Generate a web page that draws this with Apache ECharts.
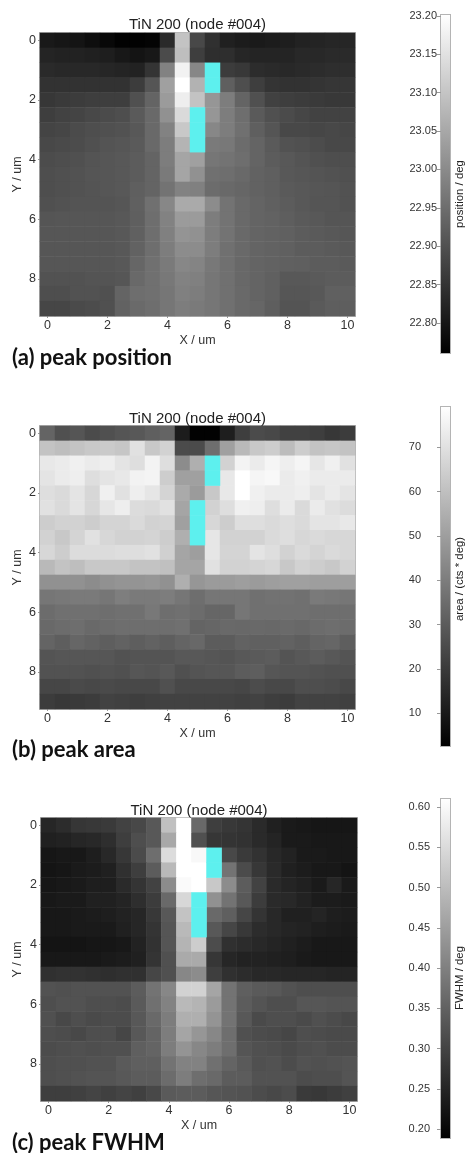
<!DOCTYPE html>
<html>
<head>
<meta charset="utf-8">
<style>html,body{margin:0;padding:0;background:#fff}#c{width:466px;height:1153px;filter:blur(0.45px)}</style>
<script src="https://cdn.jsdelivr.net/npm/echarts@6/dist/echarts.min.js"></script>
</head>
<body>
<div id="c"></div>
<script>
const xCategories = ['0','0.5','1','1.5','2','2.5','3','3.5','4','4.5','5','5.5','6','6.5','7','7.5','8','8.5','9','9.5','10'];
const yCategories = ['0','0.5','1','1.5','2','2.5','3','3.5','4','4.5','5','5.5','6','6.5','7','7.5','8','8.5','9'];

// peak position / deg, one row per Y step, null = unfitted (cyan) cell
const positionValues = [
[22.804,22.799,22.796,22.785,22.775,22.764,22.764,22.768,22.833,23.097,22.885,22.844,22.816,22.809,22.806,22.809,22.813,22.820,22.823,22.827,22.827],
[22.823,22.820,22.820,22.816,22.813,22.802,22.796,22.802,22.890,23.089,22.868,22.840,22.840,22.827,22.823,22.823,22.823,22.830,22.830,22.833,22.833],
[22.833,22.830,22.830,22.830,22.827,22.823,22.820,22.851,22.985,23.178,22.994,null,22.865,22.858,22.837,22.833,22.830,22.833,22.837,22.840,22.840],
[22.847,22.847,22.847,22.847,22.847,22.847,22.865,22.908,23.037,23.201,23.068,null,22.925,22.896,22.868,22.851,22.847,22.847,22.851,22.854,22.854],
[22.856,22.861,22.865,22.868,22.868,22.868,22.899,22.934,23.028,23.172,23.097,23.020,22.977,22.934,22.899,22.873,22.868,22.865,22.861,22.858,22.858],
[22.868,22.875,22.878,22.885,22.890,22.896,22.916,22.942,23.011,23.137,null,23.020,22.977,22.951,22.916,22.899,22.890,22.882,22.875,22.875,22.875],
[22.878,22.882,22.890,22.896,22.899,22.902,22.913,22.942,22.985,23.106,null,22.994,22.977,22.954,22.925,22.908,22.885,22.885,22.882,22.885,22.882],
[22.885,22.889,22.892,22.899,22.906,22.909,22.916,22.942,22.977,23.072,null,22.971,22.968,22.947,22.934,22.916,22.902,22.899,22.892,22.885,22.885],
[22.892,22.896,22.899,22.906,22.909,22.913,22.920,22.934,22.977,23.046,23.037,22.965,22.959,22.951,22.934,22.920,22.913,22.906,22.899,22.896,22.896],
[22.896,22.899,22.902,22.908,22.909,22.913,22.920,22.934,22.971,23.046,23.011,22.954,22.951,22.942,22.930,22.925,22.913,22.909,22.906,22.902,22.899],
[22.896,22.899,22.902,22.906,22.909,22.913,22.925,22.934,22.959,22.985,22.982,22.947,22.942,22.937,22.930,22.925,22.916,22.913,22.909,22.908,22.902],
[22.899,22.902,22.906,22.906,22.906,22.909,22.927,22.954,22.994,23.054,23.054,23.003,22.959,22.942,22.934,22.927,22.920,22.913,22.908,22.908,22.902],
[22.908,22.909,22.909,22.909,22.909,22.913,22.925,22.951,22.985,23.028,23.028,22.977,22.959,22.942,22.934,22.930,22.923,22.916,22.913,22.908,22.908],
[22.909,22.909,22.909,22.909,22.909,22.913,22.927,22.951,22.982,23.016,23.011,22.977,22.959,22.942,22.934,22.930,22.927,22.920,22.916,22.913,22.909],
[22.909,22.909,22.909,22.909,22.909,22.913,22.930,22.951,22.977,23.003,23.003,22.977,22.954,22.942,22.934,22.930,22.927,22.920,22.920,22.916,22.913],
[22.909,22.909,22.909,22.909,22.909,22.913,22.937,22.954,22.971,22.994,22.989,22.968,22.954,22.940,22.934,22.930,22.927,22.925,22.920,22.920,22.916],
[22.902,22.902,22.902,22.906,22.906,22.909,22.942,22.954,22.968,22.985,22.982,22.965,22.954,22.940,22.934,22.927,22.913,22.913,22.916,22.920,22.920],
[22.896,22.896,22.902,22.902,22.899,22.934,22.951,22.954,22.965,22.982,22.977,22.965,22.954,22.942,22.934,22.927,22.909,22.909,22.913,22.927,22.927],
[22.882,22.882,22.889,22.892,22.899,22.930,22.944,22.951,22.965,22.977,22.971,22.965,22.954,22.942,22.937,22.923,22.906,22.906,22.916,22.923,22.923]
];

// peak area / (cts * deg)
const areaValues = [
[32.6,26.6,28.1,25.1,26.6,28.1,29.0,31.1,32.6,11.0,3.2,3.2,11.6,21.2,25.1,24.2,22.1,22.1,21.2,19.1,20.6],
[61.1,59.6,61.1,62.6,63.2,62.0,70.1,62.6,65.6,25.1,25.1,35.6,50.6,58.1,62.6,64.1,59.0,64.1,61.1,62.0,61.1],
[72.2,73.1,74.6,73.1,74.0,71.0,69.2,75.5,69.2,44.6,55.1,null,65.6,75.5,73.1,76.1,74.0,76.1,71.6,74.6,70.1],
[71.0,73.1,74.0,69.2,71.0,72.2,75.2,75.8,64.1,50.6,50.6,null,72.2,79.1,76.1,77.0,73.1,74.6,73.1,73.1,73.1],
[69.2,68.0,71.0,67.1,74.6,70.1,74.0,71.6,66.2,53.6,49.1,62.6,72.2,79.1,74.6,73.1,73.1,74.0,71.0,73.1,71.0],
[70.1,68.0,71.0,67.1,71.6,74.0,68.6,68.0,70.1,52.1,null,65.6,69.2,74.6,74.0,69.2,73.1,68.0,73.1,70.1,68.6],
[64.1,65.6,65.6,64.1,66.2,66.2,68.0,65.6,66.2,50.6,null,67.1,64.1,69.2,69.2,68.0,69.2,68.0,71.0,71.0,72.2],
[65.6,62.6,66.2,70.1,67.1,65.6,65.6,66.2,64.1,55.1,null,71.6,65.6,65.6,65.6,68.0,69.2,67.1,68.0,67.1,67.1],
[67.1,64.1,68.6,68.6,68.6,69.2,69.2,70.1,65.0,52.1,50.0,71.6,66.2,66.2,71.0,69.2,65.6,68.0,66.2,68.0,67.1],
[58.1,61.1,59.6,62.6,62.6,62.6,61.1,61.1,60.2,52.1,52.1,70.1,65.6,65.6,66.2,67.1,62.6,65.6,64.1,62.6,65.6],
[46.1,46.1,46.1,44.6,46.1,47.0,47.0,47.6,46.1,55.1,47.6,49.1,49.1,50.0,49.1,50.0,50.6,50.6,50.0,50.0,50.0],
[38.0,38.6,39.2,39.2,38.0,40.4,39.2,39.2,40.1,38.0,35.6,38.0,38.0,38.0,36.2,36.8,36.8,36.2,39.2,38.6,38.0],
[35.0,36.2,36.2,36.2,35.6,36.2,36.2,38.6,35.6,36.2,35.0,33.2,33.2,38.0,36.2,36.2,36.2,36.2,35.6,35.6,35.6],
[34.1,35.0,35.6,34.1,35.0,35.6,35.6,35.6,35.6,36.2,32.6,33.2,34.1,33.8,34.1,33.8,34.4,33.8,35.0,35.6,35.0],
[32.6,30.8,33.2,32.0,30.8,32.0,30.8,32.0,30.8,32.6,33.8,30.2,30.2,32.0,31.4,31.4,32.0,30.8,32.6,33.2,30.8],
[27.8,28.4,28.4,28.4,28.4,27.2,27.8,27.8,27.8,29.0,29.0,28.4,27.8,29.0,29.6,30.2,27.8,29.0,30.2,29.0,27.8],
[27.2,27.2,27.2,26.6,27.2,26.6,28.4,27.8,29.0,26.6,27.8,28.4,28.4,30.2,30.8,28.4,27.8,27.8,27.2,26.6,26.6],
[23.6,23.6,24.8,24.2,24.8,24.2,24.2,24.2,26.6,24.2,24.2,24.2,24.2,23.6,25.4,24.2,24.2,26.0,26.0,25.4,24.2],
[20.6,19.4,20.0,20.6,22.4,21.8,21.2,21.8,22.4,22.4,22.4,22.4,22.4,21.8,22.4,21.2,20.6,22.4,22.4,22.4,21.8]
];

// peak FWHM / deg (values above the scale top are shown at the top)
const fwhmValues = [
[.252,.262,.278,.281,.285,.298,.308,.334,.506,.610,.362,.291,.281,.275,.258,.242,.232,.229,.225,.225,.225],
[.242,.245,.252,.255,.265,.291,.318,.334,.466,.610,.321,.278,.275,.272,.258,.248,.232,.232,.229,.229,.229],
[.225,.229,.229,.239,.255,.280,.313,.371,.552,.610,.598,null,.308,.285,.272,.255,.245,.232,.232,.229,.229],
[.222,.225,.232,.235,.242,.268,.291,.341,.494,.610,.610,null,.379,.313,.280,.258,.242,.235,.229,.229,.222],
[.225,.229,.232,.239,.239,.258,.275,.298,.420,.602,.610,.519,.420,.341,.298,.258,.248,.242,.232,.252,.232],
[.229,.232,.232,.242,.242,.248,.265,.288,.362,.544,null,.428,.379,.334,.288,.258,.255,.245,.235,.235,.232],
[.229,.229,.232,.235,.239,.245,.252,.281,.334,.511,null,.362,.346,.305,.275,.255,.242,.242,.248,.239,.235],
[.229,.229,.232,.232,.232,.242,.252,.275,.329,.494,null,.334,.305,.281,.262,.255,.248,.245,.239,.235,.232],
[.222,.222,.222,.225,.225,.229,.245,.272,.329,.486,.527,.314,.268,.262,.255,.248,.242,.235,.229,.229,.229],
[.229,.229,.229,.229,.232,.235,.242,.275,.321,.470,.470,.278,.252,.245,.245,.242,.239,.232,.229,.229,.229],
[.268,.272,.272,.268,.265,.268,.268,.305,.321,.412,.420,.291,.268,.262,.255,.255,.252,.252,.252,.248,.248],
[.324,.321,.324,.324,.324,.324,.341,.379,.412,.536,.536,.461,.379,.346,.338,.334,.324,.318,.318,.318,.318],
[.318,.324,.324,.318,.318,.314,.338,.374,.404,.494,.486,.445,.379,.341,.328,.318,.318,.331,.331,.328,.328],
[.321,.308,.318,.311,.314,.314,.334,.362,.395,.478,.478,.433,.379,.334,.311,.318,.318,.311,.321,.314,.308],
[.318,.314,.308,.318,.318,.305,.334,.354,.395,.461,.437,.412,.371,.321,.314,.311,.305,.318,.314,.311,.311],
[.314,.318,.321,.318,.321,.321,.346,.354,.395,.433,.412,.395,.371,.329,.321,.318,.311,.318,.321,.314,.314],
[.318,.321,.321,.324,.324,.338,.346,.346,.379,.404,.404,.374,.354,.338,.321,.324,.314,.324,.321,.324,.328],
[.318,.321,.324,.328,.328,.334,.341,.341,.367,.395,.371,.362,.341,.341,.324,.324,.324,.314,.318,.318,.328],
[.291,.291,.295,.301,.295,.301,.295,.308,.338,.341,.341,.331,.328,.324,.314,.308,.314,.285,.281,.288,.295]
];

const positionTicks = [22.80,22.85,22.90,22.95,23.00,23.05,23.10,23.15,23.20];
const areaTicks = [10,20,30,40,50,60,70];
const fwhmTicks = [0.20,0.25,0.30,0.35,0.40,0.45,0.50,0.55,0.60];

const panelTitle = 'TiN 200 (node #004)';
const panels = [
  {values: positionValues, ticks: positionTicks, digits: 2, min: 22.761, max: 23.201, bar: 'position / deg', label: '(a) peak position',
   grid: {left: 40, top: 33, width: 315, height: 283}, cb: {top: 15, height: 338}, labelMargin: 4, titleY: 25, barNameY: 194, labelY: 358},
  {values: areaValues, ticks: areaTicks, digits: 0, min: 2.6, max: 79.1, bar: 'area / (cts * deg)', label: '(b) peak area',
   grid: {left: 40, top: 426, width: 315, height: 283}, cb: {top: 407, height: 339}, labelMargin: 20, titleY: 419, barNameY: 579, labelY: 750},
  {values: fwhmValues, ticks: fwhmTicks, digits: 2, min: 0.189, max: 0.61, bar: 'FWHM / deg', label: '(c) peak FWHM',
   grid: {left: 41, top: 818, width: 316, height: 283}, cb: {top: 799, height: 339}, labelMargin: 11, titleY: 811, barNameY: 978, labelY: 1143}
];

const grids = [], xAxes = [], yAxes = [], series = [], visualMaps = [], texts = [];
const axisFont = {color: '#333', fontFamily: 'Liberation Sans', fontSize: 12.5};

panels.forEach(function (p) {
  // heat map
  let gi = grids.length;
  grids.push(Object.assign({show: true, outerBoundsMode: 'none', borderColor: '#b4b4b4', borderWidth: 2, backgroundColor: 'transparent'}, p.grid));
  xAxes.push({gridIndex: gi, type: 'category', data: xCategories, position: 'bottom',
    axisLine: {show: false}, splitLine: {show: false},
    axisTick: {show: true, alignWithLabel: true, interval: 3, length: 2, lineStyle: {color: '#999'}},
    axisLabel: Object.assign({interval: 3, margin: 3}, axisFont),
    name: 'X / um', nameLocation: 'middle', nameGap: 18, nameTextStyle: axisFont});
  yAxes.push({gridIndex: gi, type: 'category', data: yCategories, inverse: true, position: 'left',
    axisLine: {show: false}, splitLine: {show: false},
    axisTick: {show: true, alignWithLabel: true, interval: 3, length: 2, lineStyle: {color: '#999'}},
    axisLabel: Object.assign({interval: 3, margin: 4}, axisFont)});
  const cells = [], bad = [];
  p.values.forEach(function (row, r) {
    row.forEach(function (v, c) {
      if (v === null) bad.push([c, r, 1]); else cells.push([c, r, v]);
    });
  });
  const si = series.length;
  series.push({type: 'heatmap', xAxisIndex: gi, yAxisIndex: gi, data: cells, progressive: 0, animation: false,
    itemStyle: {borderWidth: 0}});
  series.push({type: 'heatmap', xAxisIndex: gi, yAxisIndex: gi, data: bad, progressive: 0, animation: false,
    itemStyle: {color: '#5df0ee', borderWidth: 0}});
  visualMaps.push({show: false, type: 'continuous', seriesIndex: si, dimension: 2, min: p.min, max: p.max,
    inRange: {color: ['#000000', '#ffffff']}});

  // colour bar
  const bi = grids.length;
  grids.push({show: true, outerBoundsMode: 'none', left: 441, width: 9, top: p.cb.top, height: p.cb.height,
    borderColor: '#b4b4b4', borderWidth: 2, backgroundColor: 'transparent'});
  xAxes.push({gridIndex: bi, type: 'category', data: [p.bar], show: false});
  yAxes.push({gridIndex: bi, type: 'value', min: p.min, max: p.max, position: 'left', splitLine: {show: false},
    axisLine: {show: false},
    axisTick: {show: true, length: 4, lineStyle: {color: '#999'}, customValues: p.ticks},
    axisLabel: {color: '#333', fontFamily: 'Liberation Sans', fontSize: 11, margin: p.labelMargin, customValues: p.ticks,
      formatter: function (v) { return Number(v).toFixed(p.digits); }}});
  series.push({type: 'bar', xAxisIndex: bi, yAxisIndex: bi, data: [p.max], barWidth: '100%', animation: false, silent: true,
    itemStyle: {color: new echarts.graphic.LinearGradient(0, 0, 0, 1, [{offset: 0, color: '#ffffff'}, {offset: 1, color: '#000000'}])}});

  // texts
  texts.push({type: 'text', x: p.grid.left + p.grid.width / 2, y: p.titleY, silent: true,
    style: {text: panelTitle, fill: '#222', font: '15px "Liberation Sans"', textAlign: 'center', textVerticalAlign: 'middle'}});
  texts.push({type: 'text', x: 18, y: p.grid.top + p.grid.height / 2, rotation: Math.PI / 2, silent: true,
    style: {text: 'Y / um', fill: '#333', font: '12.5px "Liberation Sans"', textAlign: 'center', textVerticalAlign: 'middle'}});
  texts.push({type: 'text', x: 12, y: p.labelY, silent: true,
    style: {text: p.label, fill: '#111', font: 'bold 22px Lato', textAlign: 'left', textVerticalAlign: 'middle'}});
  texts.push({type: 'text', x: 460, y: p.barNameY, rotation: Math.PI / 2, silent: true,
    style: {text: p.bar, fill: '#222', font: '11.4px "Liberation Sans"', textAlign: 'center', textVerticalAlign: 'middle'}});
});

const chart = echarts.init(document.getElementById('c'), null, {renderer: 'canvas'});
chart.setOption({
  animation: false,
  backgroundColor: '#ffffff',
  grid: grids, xAxis: xAxes, yAxis: yAxes, series: series, visualMap: visualMaps,
  graphic: {elements: texts}
});
</script>
</body>
</html>
